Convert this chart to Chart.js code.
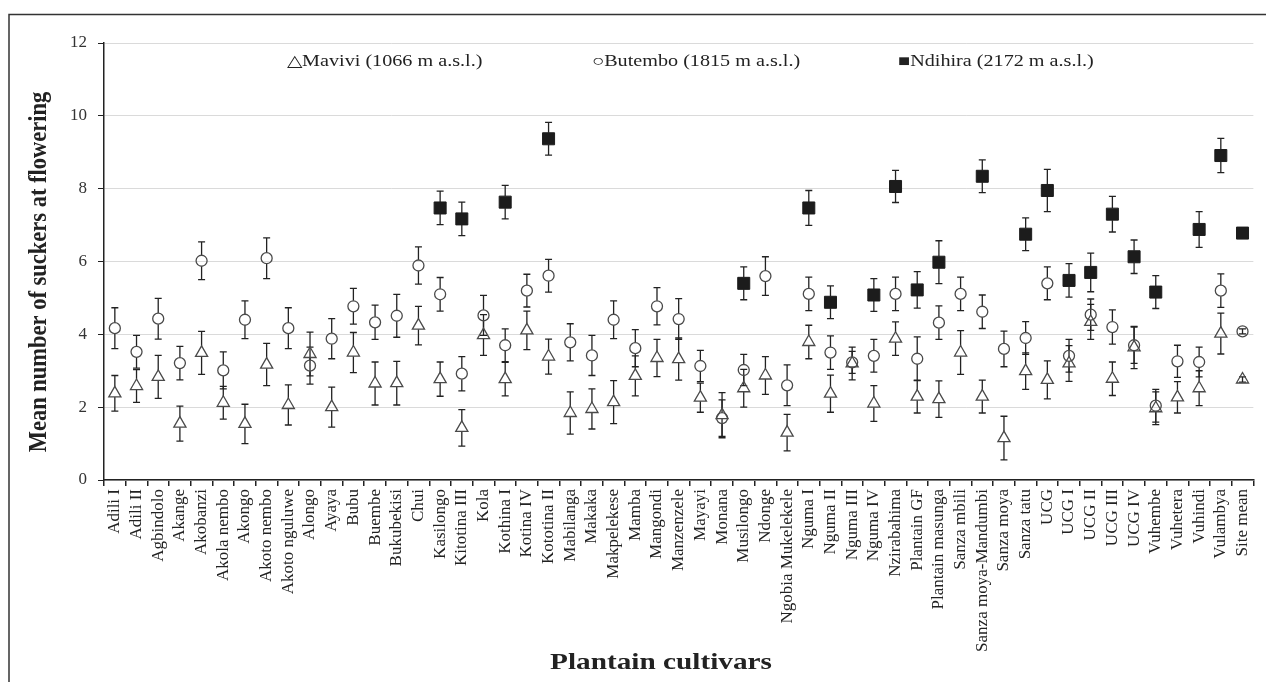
<!DOCTYPE html>
<html><head><meta charset="utf-8">
<script src="https://cdn.jsdelivr.net/npm/chart.js@4.4.1/dist/chart.umd.min.js"></script>
<style>html,body{margin:0;padding:0;background:#fff;}canvas{display:block;}</style>
</head><body>
<canvas id="c" width="1266" height="682"></canvas>
<script>
const cultivars = ['Adili I','Adili II','Agbindolo','Akange','Akobanzi','Akola nembo','Akongo','Akoto nembo','Akoto nguluwe','Alongo','Ayaya','Bubu','Buembe','Bukubekisi','Chui','Kasilongo','Kitotina III','Kola','Kothina I','Kotina IV','Kototina II','Mabilanga','Makaka','Makpelekese','Mamba','Mangondi','Manzenzele','Mayayi','Monana','Musilongo','Ndonge','Ngobia Mukelekele','Nguma I','Nguma II','Nguma III','Nguma IV','Nzirabahima','Plantain GF','Plantain masunga','Sanza mbili','Sanza moya-Mandumbi','Sanza moya','Sanza tatu','UCG','UCG I','UCG II','UCG III','UCG IV','Vuhembe','Vuhetera','Vuhindi','Vulambya','Site mean'];

const mavivi = [2.38,2.58,2.83,1.55,3.49,2.12,1.54,3.17,2.06,3.46,2.0,3.50,2.65,2.66,4.24,2.77,1.43,3.98,2.77,4.11,3.39,1.84,1.95,2.14,2.86,3.35,3.32,2.26,1.78,2.52,2.87,1.30,3.79,2.37,3.20,2.10,3.88,2.29,2.22,3.50,2.29,1.15,2.99,2.75,3.20,4.34,2.78,3.64,1.97,2.27,2.52,4.02,2.76];
const maviviErr = [0.49,0.45,0.59,0.48,0.59,0.45,0.54,0.58,0.55,0.60,0.55,0.55,0.59,0.60,0.53,0.47,0.50,0.56,0.46,0.53,0.48,0.58,0.55,0.59,0.55,0.51,0.58,0.40,0.62,0.52,0.52,0.50,0.46,0.51,0.45,0.49,0.46,0.45,0.50,0.60,0.45,0.60,0.50,0.52,0.49,0.48,0.46,0.58,0.45,0.43,0.48,0.56,0.07];

const butembo = [4.17,3.52,4.43,3.21,6.02,3.01,4.40,6.09,4.17,3.14,3.88,4.77,4.33,4.51,5.89,5.10,2.92,4.52,3.70,5.20,5.61,3.78,3.42,4.40,3.62,4.77,4.42,3.13,1.70,3.02,5.60,2.60,5.11,3.50,3.23,3.41,5.11,3.33,4.32,5.11,4.62,3.60,3.90,5.40,3.41,4.54,4.20,3.70,2.04,3.26,3.24,5.20,4.08];
const butemboErr = [0.56,0.45,0.56,0.46,0.52,0.51,0.52,0.56,0.56,0.51,0.55,0.49,0.47,0.59,0.51,0.46,0.47,0.55,0.45,0.45,0.45,0.51,0.55,0.52,0.51,0.51,0.56,0.43,0.50,0.43,0.53,0.56,0.46,0.46,0.30,0.45,0.46,0.60,0.46,0.46,0.46,0.49,0.45,0.45,0.45,0.43,0.47,0.50,0.45,0.44,0.41,0.46,0.07];

const ndihira = [null,null,null,null,null,null,null,null,null,null,null,null,null,null,null,7.47,7.17,null,7.63,null,9.37,null,null,null,null,null,null,null,null,5.40,null,null,7.47,4.88,null,5.08,8.06,5.22,5.98,null,8.34,null,6.75,7.95,5.48,5.70,7.30,6.13,5.16,null,6.88,8.91,6.78];
const ndihiraErr = [0,0,0,0,0,0,0,0,0,0,0,0,0,0,0,0.46,0.46,0,0.46,0,0.45,0,0,0,0,0,0,0,0,0.45,0,0,0.48,0.45,0,0.45,0.44,0.50,0.59,0,0.45,0,0.45,0.58,0.46,0.53,0.49,0.46,0.45,0,0.49,0.47,0.05];

const seriesNames = ['Mavivi (1066 m a.s.l.)','Butembo (1815 m a.s.l.)','Ndihira (2172 m a.s.l.)'];
const legendSymbols = ['\u25B3','\u25CB','\u25A0'];
const yAxisTitle = 'Mean number of suckers at flowering';
const xAxisTitle = 'Plantain cultivars';

const FONT = '"Liberation Serif", "Times New Roman", serif';
Chart.defaults.font.family = FONT;

const errs = [maviviErr, butemboErr, ndihiraErr];
const gaps = [[6.5,3.6],[5.6,5.6],[6,6]];

const errorBars = {
  id: 'errorBars',
  beforeDatasetsDraw(chart) {
    const ctx = chart.ctx, ys = chart.scales.y;
    ctx.save();
    ctx.strokeStyle = '#222';
    ctx.lineWidth = 1.3;
    chart.data.datasets.forEach((ds, i) => {
      const meta = chart.getDatasetMeta(i);
      ds.data.forEach((v, j) => {
        if (v == null) return;
        const e = errs[i][j];
        const el = meta.data[j];
        const x = el.x, y = el.y;
        const yt = ys.getPixelForValue(v + e), yb = ys.getPixelForValue(v - e);
        const gt = gaps[i][0], gb = gaps[i][1];
        ctx.beginPath();
        if (y - yt > gt + 1 && yb - y > gb + 1) {
          ctx.moveTo(x, yt); ctx.lineTo(x, y - gt);
          ctx.moveTo(x, y + gb); ctx.lineTo(x, yb);
        } else {
          ctx.moveTo(x, yt); ctx.lineTo(x, yb);
        }
        ctx.moveTo(x - 3.5, yt); ctx.lineTo(x + 3.5, yt);
        ctx.moveTo(x - 3.5, yb); ctx.lineTo(x + 3.5, yb);
        ctx.stroke();
      });
    });
    ctx.restore();
  }
};

const decor = {
  id: 'decor',
  beforeDraw(chart) {
    const ctx = chart.ctx;
    ctx.save();
    ctx.fillStyle = '#fff';
    ctx.fillRect(0, 0, chart.width, chart.height);
    ctx.strokeStyle = '#333';
    ctx.lineWidth = 1.5;
    ctx.beginPath();
    ctx.moveTo(9, 682); ctx.lineTo(9, 14.5); ctx.lineTo(1266, 14.5);
    ctx.stroke();
    ctx.restore();
  },
  afterDraw(chart) {
    const ctx = chart.ctx;
    ctx.save();
    ctx.fillStyle = '#222';
    ctx.font = 'bold 22.5px ' + FONT;
    ctx.textAlign = 'center';
    ctx.textBaseline = 'middle';
    ctx.save();
    ctx.translate(39, 272);
    ctx.scale(1.15, 1);
    ctx.rotate(-Math.PI / 2);
    ctx.fillText(yAxisTitle, 0, 0);
    ctx.restore();
    ctx.save();
    ctx.translate(661, 663);
    ctx.scale(1.3, 1);
    ctx.fillText(xAxisTitle, 0, 0);
    ctx.restore();
    ctx.font = '16px ' + FONT;
    ctx.textAlign = 'left';
    const lx = [287, 592, 898];
    seriesNames.forEach((n, i) => {
      ctx.save();
      ctx.translate(lx[i], 62);
      ctx.scale(1.26, 1);
      ctx.fillText(legendSymbols[i] + n, 0, 0);
      ctx.restore();
    });
    ctx.restore();
  }
};

new Chart(document.getElementById('c'), {
  type: 'line',
  data: {
    labels: cultivars,
    datasets: [
      { label: seriesNames[0], data: mavivi, showLine: false, pointStyle: 'triangle', pointRadius: 7, pointBorderWidth: 1.3, borderColor: '#4a4a4a', backgroundColor: 'rgba(255,255,255,0)' },
      { label: seriesNames[1], data: butembo, showLine: false, pointStyle: 'circle', pointRadius: 5.5, pointBorderWidth: 1.3, borderColor: '#4a4a4a', backgroundColor: 'rgba(255,255,255,0)' },
      { label: seriesNames[2], data: ndihira, showLine: false, pointStyle: 'rect', pointRadius: 8.5, pointBorderWidth: 1, borderColor: '#1c1c1c', backgroundColor: '#1c1c1c' }
    ]
  },
  options: {
    responsive: false,
    animation: false,
    devicePixelRatio: 1,
    layout: { padding: { top: 43, left: 0, right: 5, bottom: 0 } },
    plugins: { legend: { display: false }, tooltip: { enabled: false } },
    scales: {
      x: {
        offset: true,
        afterFit(s) { s.height = 202; },
        grid: { drawOnChartArea: false, drawTicks: true, tickLength: 6, tickColor: '#222', lineWidth: 1.5, offset: true },
        border: { color: '#222', width: 1.5 },
        ticks: { autoSkip: false, maxRotation: 90, minRotation: 90, padding: 3, color: '#222', font: { size: 17, family: FONT } }
      },
      y: {
        min: 0, max: 12,
        afterFit(s) { s.width = 104; },
        grid: { color: '#dadada', lineWidth: 1, tickLength: 6, tickColor: '#222' },
        border: { color: '#222', width: 1.5 },
        ticks: { stepSize: 2, padding: 11, color: '#333', font: { size: 17, family: FONT } }
      }
    }
  },
  plugins: [decor, errorBars]
});
</script>
</body></html>
